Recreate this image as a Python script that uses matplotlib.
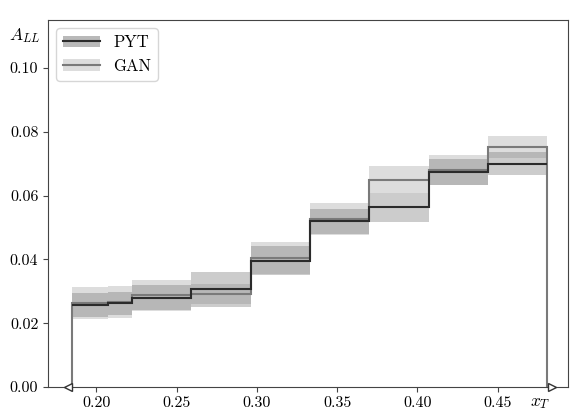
import matplotlib
matplotlib.use("Agg")
import matplotlib.pyplot as plt
from matplotlib.patches import Patch
from matplotlib.lines import Line2D
from matplotlib.ticker import FormatStrFormatter, MultipleLocator

plt.rcParams['font.family'] = ['cmr10', 'DejaVu Serif']
plt.rcParams['mathtext.fontset'] = 'cm'
plt.rcParams['axes.formatter.use_mathtext'] = True

# bin edges in x_T and A_LL per bin
edges = [0.185, 0.207, 0.222, 0.259, 0.296, 0.333, 0.370, 0.407, 0.444, 0.481]
pyt = [0.0257, 0.0262, 0.0280, 0.0306, 0.0396, 0.0519, 0.0563, 0.0673, 0.0700]
pyt_err = [0.0037, 0.0037, 0.0040, 0.0055, 0.0045, 0.0040, 0.0045, 0.0040, 0.0037]
gan = [0.0262, 0.0266, 0.0287, 0.0292, 0.0405, 0.0527, 0.0649, 0.0680, 0.0753]
gan_err = [0.0050, 0.0050, 0.0048, 0.0032, 0.0050, 0.0050, 0.0042, 0.0048, 0.0035]

fig = plt.figure(figsize=(5.81, 4.16), dpi=100)
ax = fig.add_axes([0.0826, 0.0697, 0.895, 0.8823])

pyt_lo = [v - e for v, e in zip(pyt, pyt_err)]
pyt_hi = [v + e for v, e in zip(pyt, pyt_err)]
gan_lo = [v - e for v, e in zip(gan, gan_err)]
gan_hi = [v + e for v, e in zip(gan, gan_err)]

ax.stairs(gan_hi, edges, baseline=gan_lo, fill=True, color='#a0a0a0', alpha=0.35, lw=0, zorder=1)
ax.stairs(pyt_hi, edges, baseline=pyt_lo, fill=True, color='#808080', alpha=0.4, lw=0, zorder=2)
ax.stairs(gan, edges, baseline=0, color='#7a7a7a', lw=1.5, zorder=3)
ax.stairs(pyt, edges, baseline=None, color='#2b2b2b', lw=1.5, zorder=4)

# axis arrows at both ends of the x range
ax.plot([edges[0] - 0.003], [0], marker='<', ms=6, mfc='white', mec='#333333', mew=1.0,
        clip_on=False, zorder=5)
ax.plot([edges[-1] + 0.003], [0], marker='>', ms=6, mfc='white', mec='#333333', mew=1.0,
        clip_on=False, zorder=5)

ax.set_xlim(0.1698, 0.4938)
ax.set_ylim(0, 0.115)
ax.xaxis.set_major_locator(MultipleLocator(0.05))
ax.yaxis.set_major_locator(MultipleLocator(0.02))
ax.xaxis.set_major_formatter(FormatStrFormatter('%.2f'))
ax.yaxis.set_major_formatter(FormatStrFormatter('%.2f'))
ax.tick_params(labelsize=11.5, color='#444444', direction='out', length=3.5)
for s in ax.spines.values():
    s.set_color('#444444')

ax.text(-0.045, 0.958, r'$A_{LL}$', transform=ax.transAxes, fontsize=12.5,
        ha='center', va='center')
ax.text(0.946, -0.045, r'$x_T$', transform=ax.transAxes, fontsize=12.5,
        ha='center', va='center')

h_pyt = (Patch(color='#808080', alpha=0.55, lw=0), Line2D([], [], color='#2b2b2b', lw=1.5))
h_gan = (Patch(color='#a0a0a0', alpha=0.35, lw=0), Line2D([], [], color='#7a7a7a', lw=1.5))
ax.legend([h_pyt, h_gan], ['PYT', 'GAN'], loc='upper left', fontsize=12,
          handlelength=2.2, borderaxespad=0.5, framealpha=0.8)

fig.savefig('out.png', dpi=100, facecolor='white')
